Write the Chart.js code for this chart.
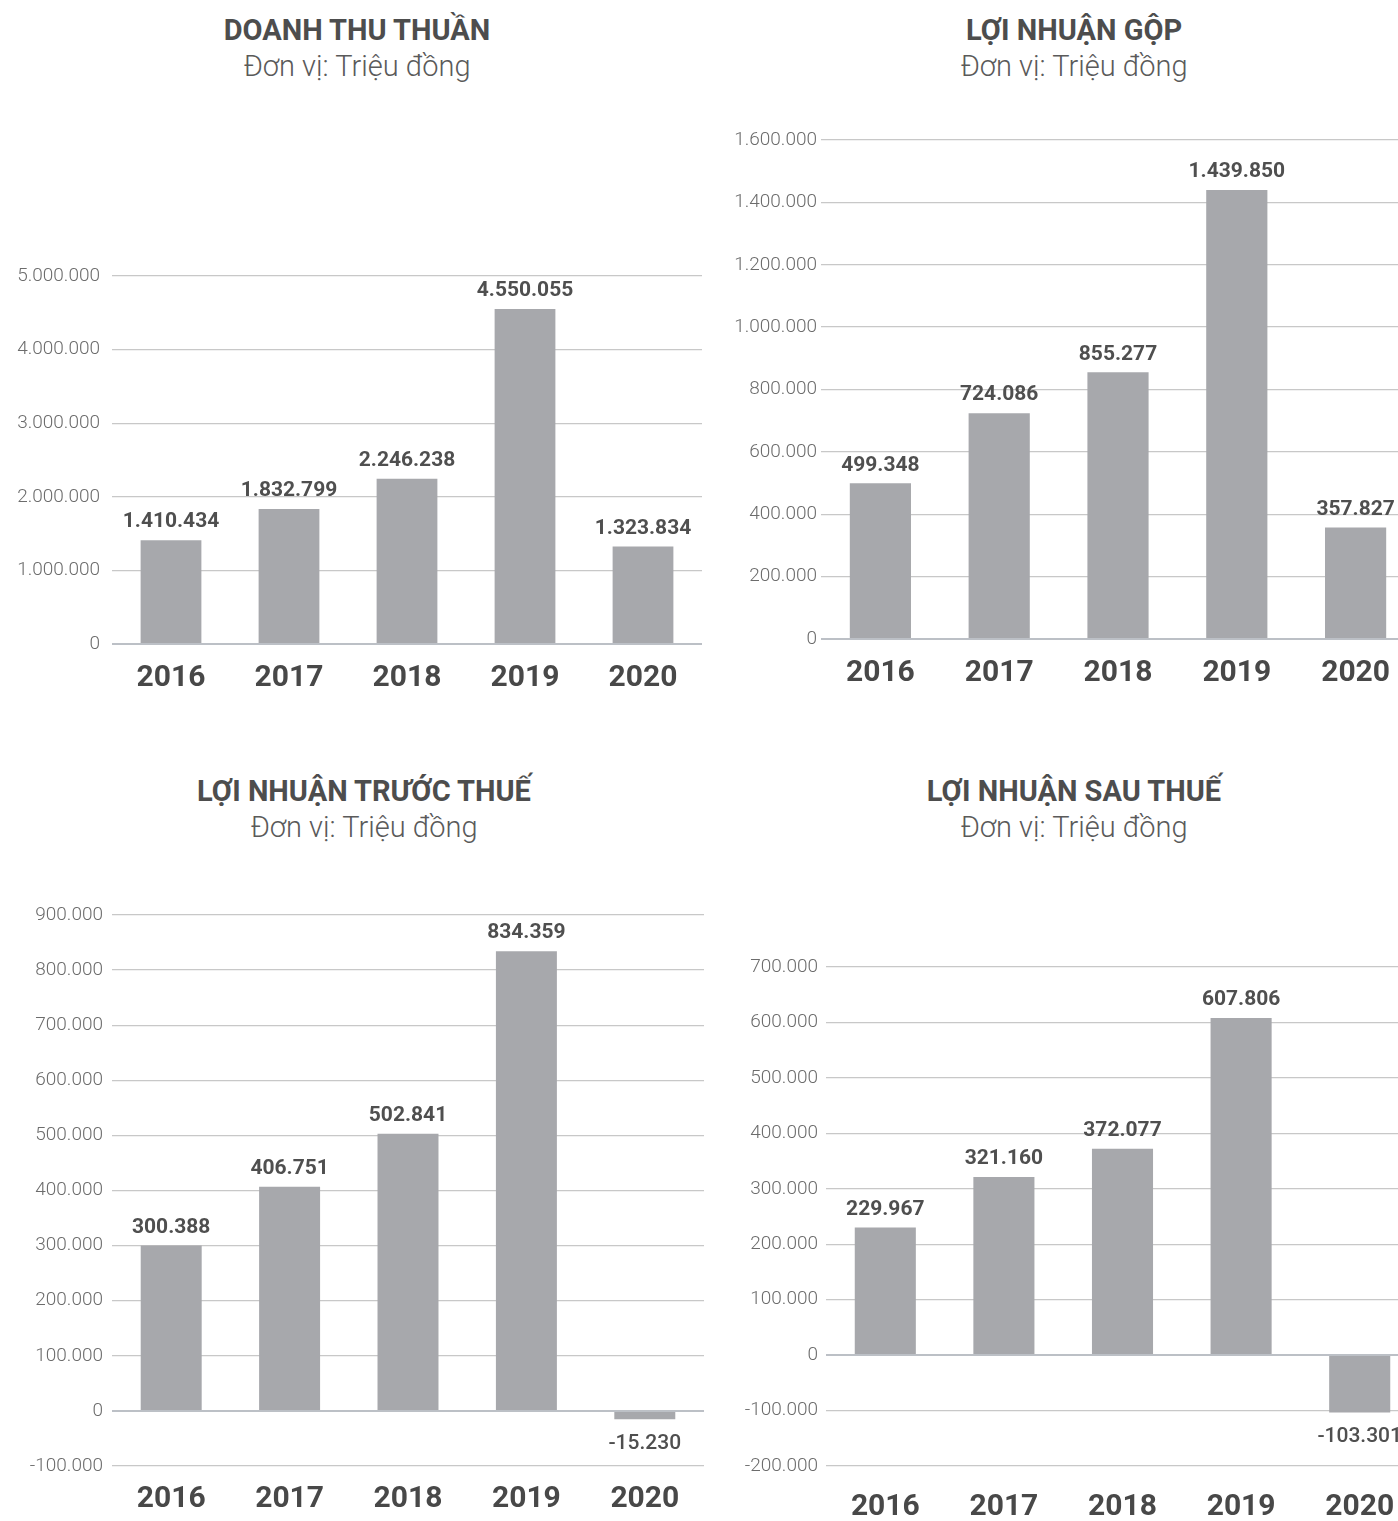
<!DOCTYPE html>
<html>
<head>
<meta charset="utf-8">
<script src="https://cdn.jsdelivr.net/npm/chart.js@4.4.1/dist/chart.umd.min.js"></script>
<style>
  html, body { margin: 0; padding: 0; background: #fff; }
  body { width: 1398px; height: 1521px; position: relative; overflow: hidden; font-family: Roboto, sans-serif; }
  .t { position: absolute; width: 700px; text-align: center; white-space: nowrap; height: 34px; line-height: 34px; }
  .main { font-weight: 700; font-size: 29px; color: #4d4d4d; }
  .sub { font-weight: 300; font-size: 29px; color: #5a5a5a; }
  canvas { position: absolute; }
</style>
</head>
<body>
  <div class="t main" style="left:7px;top:13px">DOANH THU THUẦN</div>
  <div class="t sub" style="left:7px;top:49px">Đơn vị: Triệu đồng</div>
  <div class="t main" style="left:724px;top:13px">LỢI NHUẬN GỘP</div>
  <div class="t sub" style="left:724px;top:49px">Đơn vị: Triệu đồng</div>
  <div class="t main" style="left:14px;top:774px">LỢI NHUẬN TRƯỚC THUẾ</div>
  <div class="t sub" style="left:14px;top:810px">Đơn vị: Triệu đồng</div>
  <div class="t main" style="left:724px;top:774px">LỢI NHUẬN SAU THUẾ</div>
  <div class="t sub" style="left:724px;top:810px">Đơn vị: Triệu đồng</div>

  <canvas id="cDoanhThu"></canvas>
  <canvas id="cLoiNhuanGop"></canvas>
  <canvas id="cTruocThue"></canvas>
  <canvas id="cSauThue"></canvas>

<script>
  var years = ['2016', '2017', '2018', '2019', '2020'];

  var doanhThu = [1410434, 1832799, 2246238, 4550055, 1323834];
  var loiNhuanGop = [499348, 724086, 855277, 1439850, 357827];
  var loiNhuanTruocThue = [300388, 406751, 502841, 834359, -15230];
  var loiNhuanSauThue = [229967, 321160, 372077, 607806, -103301];

  // y axis: [min, max, step]
  var doanhThuAxis = [0, 5000000, 1000000];
  var loiNhuanGopAxis = [0, 1600000, 200000];
  var truocThueAxis = [-100000, 900000, 100000];
  var sauThueAxis = [-200000, 700000, 100000];

  function fmt(n) {
    var s = Math.abs(Math.round(n)).toString().replace(/\B(?=(\d{3})+(?!\d))/g, '.');
    return (n < 0 ? '-' : '') + s;
  }

  var valueLabels = {
    id: 'valueLabels',
    afterDatasetsDraw: function (chart) {
      var ctx = chart.ctx;
      var meta = chart.getDatasetMeta(0);
      var vals = chart.data.datasets[0].data;
      ctx.save();
      ctx.textAlign = 'center';
      ctx.textBaseline = 'middle';
      ctx.fillStyle = '#4f4f4f';
      meta.data.forEach(function (bar, i) {
        var v = vals[i];
        if (v < 0) {
          ctx.font = '500 21px Roboto';
          ctx.fillText(fmt(v), bar.x, bar.y + 24);
        } else {
          ctx.font = 'bold 21px Roboto';
          ctx.fillText(fmt(v), bar.x, bar.y - 18);
        }
      });
      ctx.restore();
    }
  };

  function makeChart(id, values, axis, box) {
    var canvas = document.getElementById(id);
    canvas.width = box.w;
    canvas.height = box.h;
    canvas.style.left = box.left + 'px';
    canvas.style.top = box.top + 'px';
    canvas.style.width = box.w + 'px';
    canvas.style.height = box.h + 'px';

    return new Chart(canvas, {
      type: 'bar',
      data: {
        labels: years,
        datasets: [{
          data: values,
          backgroundColor: '#a7a8ac',
          borderWidth: 0,
          categoryPercentage: 1,
          barPercentage: 0.515
        }]
      },
      plugins: [valueLabels],
      options: {
        responsive: false,
        animation: false,
        events: [],
        layout: { padding: { top: box.padTop, left: 0, right: 0, bottom: 0 } },
        plugins: { legend: { display: false }, tooltip: { enabled: false } },
        scales: {
          x: {
            grid: { display: false, drawTicks: false },
            border: { display: false },
            afterFit: function (scale) { scale.height = box.xh; },
            ticks: {
              color: '#484848',
              padding: box.xPad,
              font: { family: 'Roboto', size: 30, weight: 'bold' }
            }
          },
          y: {
            min: axis[0],
            max: axis[1],
            afterFit: function (scale) { scale.width = box.yw; },
            border: { display: false },
            grid: {
              drawTicks: false,
              color: function (c) { return c.tick && c.tick.value === 0 ? '#bcc0c6' : '#c8c8c8'; },
              lineWidth: function (c) { return c.tick && c.tick.value === 0 ? 2 : 1.3; }
            },
            ticks: {
              stepSize: axis[2],
              color: '#6c6c6c',
              padding: box.yPad,
              font: { family: 'Roboto', size: 19, weight: '300' },
              callback: function (v) { return fmt(v); }
            }
          }
        }
      }
    });
  }

  makeChart('cDoanhThu', doanhThu, doanhThuAxis,
    { left: 0, top: 236, w: 702, h: 464, padTop: 40, yw: 112, xh: 56, xPad: 16, yPad: 12 });
  makeChart('cLoiNhuanGop', loiNhuanGop, loiNhuanGopAxis,
    { left: 699, top: 100, w: 716, h: 600, padTop: 40, yw: 122, xh: 61, xPad: 16, yPad: 4 });
  makeChart('cTruocThue', loiNhuanTruocThue, truocThueAxis,
    { left: 0, top: 875, w: 704, h: 646, padTop: 40, yw: 112, xh: 55, xPad: 15, yPad: 9 });
  makeChart('cSauThue', loiNhuanSauThue, sauThueAxis,
    { left: 699, top: 927, w: 720, h: 594, padTop: 40, yw: 127, xh: 55, xPad: 23, yPad: 8 });
</script>
</body>
</html>
